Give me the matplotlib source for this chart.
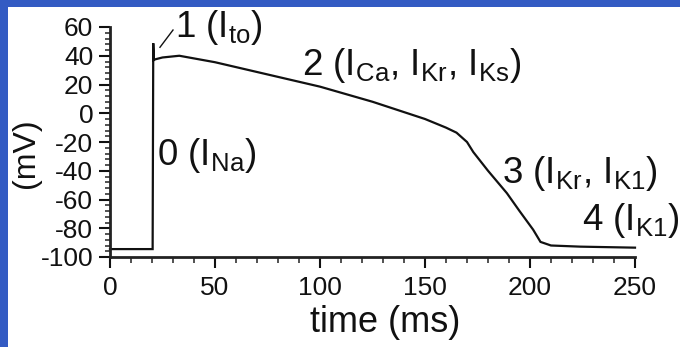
import matplotlib
matplotlib.use("Agg")
import matplotlib.pyplot as plt
from matplotlib.patches import Rectangle
from matplotlib.ticker import MultipleLocator

# Data: action potential trace (time ms, membrane potential mV)
time_ms = [0, 20.3, 20.6, 20.9, 21.5, 25, 33, 50, 75, 100, 125, 150, 160, 165,
           170, 173, 180, 189, 195, 201.5, 205, 210, 224, 250]
voltage_mv = [-94.5, -94.5, 48.7, 37, 37.5, 38.8, 40, 35.5, 27, 18.5, 8, -4, -10, -13.5,
              -20, -27, -40, -55.6, -68, -81, -89.5, -92, -92.8, -93.5]

x_ticks = [0, 50, 100, 150, 200, 250]
y_ticks = [-100, -80, -60, -40, -20, 0, 20, 40, 60]

# phase labels: (text, t, V)
labels = [
    ("1 (I$_{to}$)", 31, 53),
    ("2 (I$_{Ca}$, I$_{Kr}$, I$_{Ks}$)", 91.4, 26.6),
    ("0 (I$_{Na}$)", 22.4, -36),
    ("3 (I$_{Kr}$, I$_{K1}$)", 186.7, -48.5),
    ("4 (I$_{K1}$)", 225, -81.2),
]

plt.rcParams['font.family'] = ['Liberation Sans', 'DejaVu Sans']
plt.rcParams['mathtext.default'] = 'regular'
plt.rcParams['axes.unicode_minus'] = False

fig = plt.figure(figsize=(6.8, 3.47), dpi=100, facecolor='#335bc3')
fig.patches.append(Rectangle((8/680, 0), 672/680, 340/347, transform=fig.transFigure,
                             facecolor='white', edgecolor='none', zorder=-10))

ax = fig.add_axes([110/680, 1-257/347, 525/680, 230/347])
ax.set_zorder(5)
ax.set_facecolor('none')
ax.plot(time_ms, voltage_mv, color='#111111', lw=1.6, clip_on=False, solid_joinstyle='miter')
ax.plot([23.8, 30], [45.9, 57.9], color='#111111', lw=1.0, clip_on=False)

ax.set_xlim(0, 250)
ax.set_ylim(-100, 60)
for s in ['top', 'right']:
    ax.spines[s].set_visible(False)
for s in ['left', 'bottom']:
    ax.spines[s].set_linewidth(2.0)
    ax.spines[s].set_color('#222222')

ax.set_xticks(x_ticks)
ax.set_yticks(y_ticks)
ax.xaxis.set_minor_locator(MultipleLocator(10))
ax.yaxis.set_minor_locator(MultipleLocator(4))
ax.tick_params(axis='both', which='major', labelsize=19, colors='#111111', width=1.5, direction='out')
ax.tick_params(axis='x', which='major', length=8, pad=6)
ax.tick_params(axis='y', which='major', length=8, pad=4)
ax.tick_params(axis='x', which='minor', length=4, width=1.2, direction='out', color='#333333')
ax.tick_params(axis='y', which='minor', length=3.5, width=1.2, direction='out', color='#333333')

for txt, t, v in labels:
    ax.text(t, v, txt, fontsize=26.5, color='#111111', ha='left', va='baseline', clip_on=False)

fig.text(385/680, 1-322/347, 'time (ms)', fontsize=26, color='#111111', ha='center', va='center')
fig.text(26/680, 1-153/347, '(mV)', fontsize=23, color='#111111', ha='center', va='center', rotation=90)

fig.savefig('out.png', dpi=100, facecolor=fig.get_facecolor())
